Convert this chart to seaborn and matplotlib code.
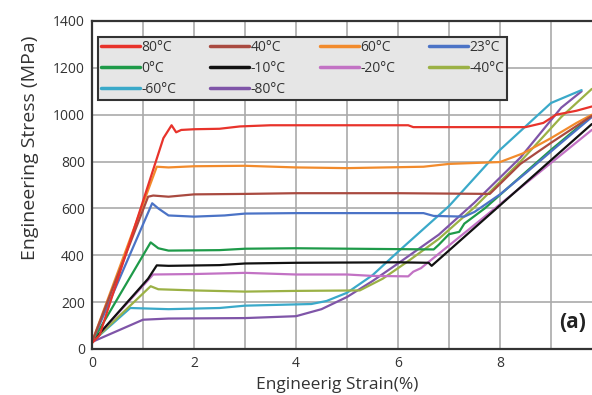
import matplotlib
matplotlib.use("Agg")
import matplotlib.pyplot as plt
from matplotlib.lines import Line2D
from matplotlib.ticker import MultipleLocator
import seaborn as sns
import pandas as pd

# temperatures (legend order as it reads row by row)
temps = ["80°C", "40°C", "60°C", "23°C", "0°C", "-10°C", "-20°C", "-40°C", "-60°C", "-80°C"]
colors = ["#e8332b", "#a94a40", "#f28b2c", "#4b73c6", "#1e9a49", "#111111",
          "#c272c4", "#9bb145", "#3aa9c9", "#7f55a8"]

# strain (%) / stress (MPa)
s80_x = [0, 0.15, 1.4, 1.56, 1.65, 1.75, 2.0, 2.5, 2.9, 3.5, 6.2, 6.3, 8.5, 8.85, 9.1, 9.5, 9.8]
s80_y = [25, 60, 900, 955, 925, 935, 938, 940, 950, 955, 955, 947, 947, 965, 1000, 1017, 1035]
s40_x = [0, 1.1, 1.2, 1.5, 2.0, 3.0, 4.0, 6.0, 7.8, 8.4, 9.0, 9.8]
s40_y = [30, 650, 655, 650, 660, 662, 665, 665, 662, 790, 880, 995]
s60_x = [0, 1.27, 1.5, 2.0, 3.0, 4.0, 5.0, 6.5, 7.0, 8.0, 8.45, 9.0, 9.5, 9.8]
s60_y = [30, 778, 775, 780, 782, 775, 772, 778, 790, 798, 835, 900, 965, 1000]
s23_x = [0, 1.18, 1.3, 1.5, 2.0, 2.6, 3.0, 4.0, 6.5, 6.7, 7.3, 7.5, 8.0, 8.5, 9.2, 9.8]
s23_y = [30, 622, 600, 570, 565, 570, 578, 580, 580, 568, 565, 585, 660, 750, 880, 990]
s0_x = [0, 1.15, 1.3, 1.5, 2.5, 3.0, 4.0, 6.7, 6.8, 7.0, 7.2, 7.3, 7.7, 8.4, 9.0, 9.8]
s0_y = [30, 455, 430, 420, 422, 428, 430, 425, 445, 490, 500, 535, 600, 735, 850, 995]
sm10_x = [0, 1.1, 1.27, 1.5, 2.5, 3.0, 4.0, 6.0, 6.6, 6.66, 9.8]
sm10_y = [30, 300, 357, 355, 358, 365, 368, 370, 368, 355, 960]
sm20_x = [0, 1.2, 2.0, 3.0, 4.0, 5.0, 5.5, 6.2, 6.3, 6.45, 9.8]
sm20_y = [30, 318, 320, 325, 318, 318, 312, 310, 330, 345, 935]
sm40_x = [0, 1.15, 1.3, 2.0, 3.0, 4.0, 5.25, 5.7, 6.2, 6.8, 7.5, 8.4, 9.2, 9.8]
sm40_y = [30, 268, 255, 250, 245, 248, 250, 300, 375, 470, 605, 800, 990, 1110]
sm60_x = [0, 0.75, 1.5, 2.5, 3.0, 4.3, 4.6, 5.0, 5.5, 6.0, 7.0, 8.0, 9.0, 9.6]
sm60_y = [30, 175, 170, 175, 185, 192, 205, 240, 315, 415, 610, 850, 1050, 1105]
sm80_x = [0, 1.0, 1.5, 3.0, 4.0, 4.5, 5.0, 5.5, 6.0, 6.8, 7.5, 8.4, 9.2, 9.6]
sm80_y = [30, 125, 130, 132, 140, 170, 222, 290, 365, 488, 625, 817, 1030, 1100]

xs = [s80_x, s40_x, s60_x, s23_x, s0_x, sm10_x, sm20_x, sm40_x, sm60_x, sm80_x]
ys = [s80_y, s40_y, s60_y, s23_y, s0_y, sm10_y, sm20_y, sm40_y, sm60_y, sm80_y]

rows = []
for t, xx, yy in zip(temps, xs, ys):
    for i, (a, b) in enumerate(zip(xx, yy)):
        rows.append([t, i, a, b])
df = pd.DataFrame(rows, columns=["temp", "idx", "strain", "stress"])

sns.set_style("white")
plt.rcParams['font.family'] = ['Open Sans', 'DejaVu Sans']

fig = plt.figure(figsize=(5.92, 3.95), dpi=100)
ax = fig.add_axes([92 / 592, 46 / 395, 510 / 592, 328 / 395])

palette = dict(zip(temps, colors))
# draw cold first so the warm curves sit on top like the original
for t in temps[::-1]:
    sns.lineplot(data=df[df.temp == t], x="strain", y="stress", color=palette[t],
                 sort=False, estimator=None, linewidth=1.6, ax=ax, legend=False)

ax.set_xlim(0, 10)
ax.set_ylim(0, 1400)
ax.xaxis.set_major_locator(MultipleLocator(2))
ax.xaxis.set_minor_locator(MultipleLocator(1))
ax.yaxis.set_major_locator(MultipleLocator(200))
ax.grid(which="both", axis="x", color="#aaaaaa", linewidth=1.2)
ax.grid(which="major", axis="y", color="#aaaaaa", linewidth=1.2)
ax.set_axisbelow(True)
for sp in ax.spines.values():
    sp.set_color("#333333")
    sp.set_linewidth(1.6)
ax.tick_params(which="both", length=0, labelsize=10, colors="#333333", pad=5)
ax.set_xlabel("Engineerig Strain(%)", fontsize=12.5, color="#333333")
ax.set_ylabel("Engineering Stress (MPa)", fontsize=14, color="#333333")
ax.xaxis.set_label_coords(0.48, -0.085)
ax.yaxis.set_label_coords(-0.104, 0.613)

ax.text(9.43, 115, "(a)", fontsize=15, fontweight="bold", ha="center", va="center", color="#222222")

# legend fills column by column, so reorder to read row by row
order = [0, 4, 8, 1, 5, 9, 2, 6, 3, 7]
handles = [Line2D([0], [0], color=colors[i], linewidth=2.5) for i in order]
labels = [temps[i] for i in order]
leg = ax.legend(handles, labels, ncol=4, loc="lower left", mode="expand",
                bbox_to_anchor=(0.012, 0.759, 0.802, 0.192), borderaxespad=0,
                fontsize=10, handlelength=2.8, handletextpad=0.1, labelspacing=0.45,
                borderpad=0.2, columnspacing=1.0, fancybox=False, framealpha=1)
leg.get_frame().set_facecolor("#e6e6e6")
leg.get_frame().set_edgecolor("#333333")
leg.get_frame().set_linewidth(1.5)
for txt in leg.get_texts():
    txt.set_color("#333333")

plt.savefig("out.png", dpi=100)
